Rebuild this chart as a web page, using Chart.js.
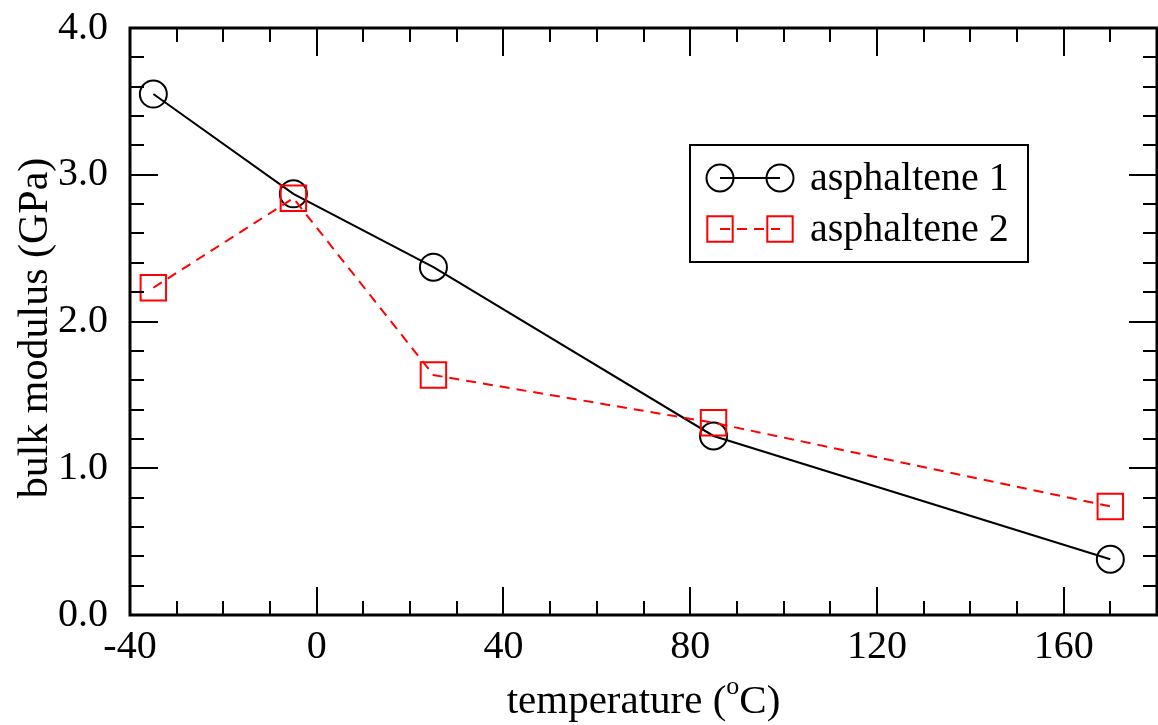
<!DOCTYPE html>
<html lang="en">
<head>
    <meta charset="UTF-8">
    <script src="https://cdn.jsdelivr.net/npm/chart.js@4.4.6/dist/chart.umd.min.js"></script>
    <title>bulk modulus vs temperature</title>
    <style>
        body { margin: 0; background: #fff; }
        #wrap { width: 1158px; height: 725px; position: relative; }
    </style>
</head>
<body>
    <div id="wrap"><canvas id="bulk-chart"></canvas></div>

    <script>
        // data
        const temps = [-35, -5, 25, 85, 170]
        const asph1 = [3.55, 2.87, 2.37, 1.22, 0.38]
        const asph2 = [2.23, 2.84, 1.635, 1.31, 0.74]
        const seriesNames = ['asphaltene 1', 'asphaltene 2']
        const xTickLabels = [-40, 0, 40, 80, 120, 160]
        const yTickLabels = [0, 1, 2, 3, 4]

        const FONT = "'Liberation Serif', 'Times New Roman', serif"
        const RED = '#ff0000'

        Chart.defaults.font.family = FONT
        Chart.defaults.color = '#000'

        // frame + inward ticks on all four sides, xmgrace style
        const frameTicks = {
            id: 'frameTicks',
            afterDraw(chart) {
                const ctx = chart.ctx
                const a = chart.chartArea
                const xs = chart.scales.x, ys = chart.scales.y
                ctx.save()
                ctx.strokeStyle = '#000'
                ctx.lineWidth = 2
                ctx.beginPath()
                for (let v = -40; v <= 180; v += 10) {
                    const px = Math.round(xs.getPixelForValue(v))
                    const len = (v % 40 === 0) ? 28 : 14
                    ctx.moveTo(px, a.bottom); ctx.lineTo(px, a.bottom - len)
                    ctx.moveTo(px, a.top); ctx.lineTo(px, a.top + len)
                }
                for (let i = 0; i <= 20; i++) {
                    const v = i * 0.2
                    const py = Math.round(ys.getPixelForValue(v))
                    const len = (i % 5 === 0) ? 28 : 14
                    ctx.moveTo(a.left, py); ctx.lineTo(a.left + len, py)
                    ctx.moveTo(a.right, py); ctx.lineTo(a.right - len, py)
                }
                ctx.stroke()
                ctx.lineWidth = 3
                ctx.strokeRect(a.left, a.top, a.right - a.left, a.bottom - a.top)

                // axis titles
                ctx.fillStyle = '#000'
                ctx.textBaseline = 'alphabetic'
                const p1 = 'temperature (', p2 = 'C)'
                ctx.font = '41px ' + FONT
                const w1 = ctx.measureText(p1).width
                const w2 = ctx.measureText(p2).width
                ctx.font = '26px ' + FONT
                const wo = ctx.measureText('o').width
                const cx = (a.left + a.right) / 2
                let tx = cx - (w1 + wo + w2) / 2
                const base = 713
                ctx.font = '41px ' + FONT
                ctx.textAlign = 'left'
                ctx.fillText(p1, tx, base)
                ctx.font = '26px ' + FONT
                ctx.fillText('o', tx + w1, base - 19)
                ctx.font = '41px ' + FONT
                ctx.fillText(p2, tx + w1 + wo, base)

                ctx.translate(47, 328)
                ctx.rotate(-Math.PI / 2)
                ctx.textAlign = 'center'
                ctx.font = '42px ' + FONT
                ctx.fillText('bulk modulus (GPa)', 0, 0)
                ctx.restore()

                // legend box
                ctx.save()
                ctx.fillStyle = '#fff'
                ctx.fillRect(690, 145, 338, 117)
                ctx.strokeStyle = '#000'
                ctx.lineWidth = 2
                ctx.strokeRect(690, 145, 338, 117)
                const rows = [
                    { y: 178, color: '#000', dash: [], marker: 'circle' },
                    { y: 229, color: RED, dash: [10, 7], marker: 'rect' }
                ]
                rows.forEach((r, i) => {
                    ctx.strokeStyle = r.color
                    ctx.lineWidth = 2
                    ctx.setLineDash(r.dash)
                    ctx.beginPath()
                    ctx.moveTo(720, r.y); ctx.lineTo(780, r.y)
                    ctx.stroke()
                    ctx.setLineDash([])
                    ;[720, 780].forEach(mx => {
                        ctx.beginPath()
                        if (r.marker === 'circle') ctx.arc(mx, r.y, 13.5, 0, Math.PI * 2)
                        else ctx.rect(mx - 12.7, r.y - 12.7, 25.4, 25.4)
                        ctx.stroke()
                    })
                    ctx.fillStyle = '#000'
                    ctx.font = '40px ' + FONT
                    ctx.textAlign = 'left'
                    ctx.textBaseline = 'alphabetic'
                    ctx.fillText(seriesNames[i], 810, r.y + 12)
                })
                ctx.restore()
            }
        }

        const toPts = (ys) => temps.map((t, i) => ({ x: t, y: ys[i] }))

        const noPad = (s) => { s.paddingLeft = 0; s.paddingRight = 0; s.paddingTop = 0; s.paddingBottom = 0 }

        new Chart(document.getElementById('bulk-chart'), {
            type: 'scatter',
            data: {
                datasets: [{
                    label: seriesNames[0],
                    data: toPts(asph1),
                    showLine: true,
                    borderColor: '#000',
                    borderWidth: 2,
                    pointStyle: 'circle',
                    pointRadius: 13.5,
                    pointHoverRadius: 13.5,
                    pointBorderWidth: 2,
                    pointBorderColor: '#000',
                    pointBackgroundColor: 'rgba(0,0,0,0)',
                    order: 1
                }, {
                    label: seriesNames[1],
                    data: toPts(asph2),
                    showLine: true,
                    borderColor: RED,
                    borderWidth: 2,
                    borderDash: [10, 7],
                    pointStyle: 'rect',
                    pointRadius: 18,
                    pointHoverRadius: 18,
                    pointBorderWidth: 2,
                    pointBorderColor: RED,
                    pointBackgroundColor: 'rgba(0,0,0,0)',
                    order: 0
                }]
            },
            options: {
                responsive: true,
                maintainAspectRatio: false,
                animation: false,
                layout: { autoPadding: false, padding: { top: 28, right: 1, left: 0, bottom: 0 } },
                scales: {
                    x: {
                        type: 'linear',
                        min: -40,
                        max: 180,
                        grid: { display: false },
                        border: { display: false },
                        afterBuildTicks: (s) => { s.ticks = xTickLabels.map(v => ({ value: v })) },
                        afterFit: (s) => { s.height = 110; noPad(s) },
                        ticks: { font: { size: 40 }, padding: 0, maxRotation: 0 }
                    },
                    y: {
                        min: 0,
                        max: 4,
                        grid: { display: false },
                        border: { display: false },
                        afterBuildTicks: (s) => { s.ticks = yTickLabels.map(v => ({ value: v })) },
                        afterFit: (s) => { s.width = 130; noPad(s) },
                        ticks: { font: { size: 40 }, padding: 14, callback: (v) => v.toFixed(1) }
                    }
                },
                plugins: {
                    legend: { display: false },
                    tooltip: { enabled: false }
                }
            },
            plugins: [frameTicks]
        })
    </script>
</body>
</html>
